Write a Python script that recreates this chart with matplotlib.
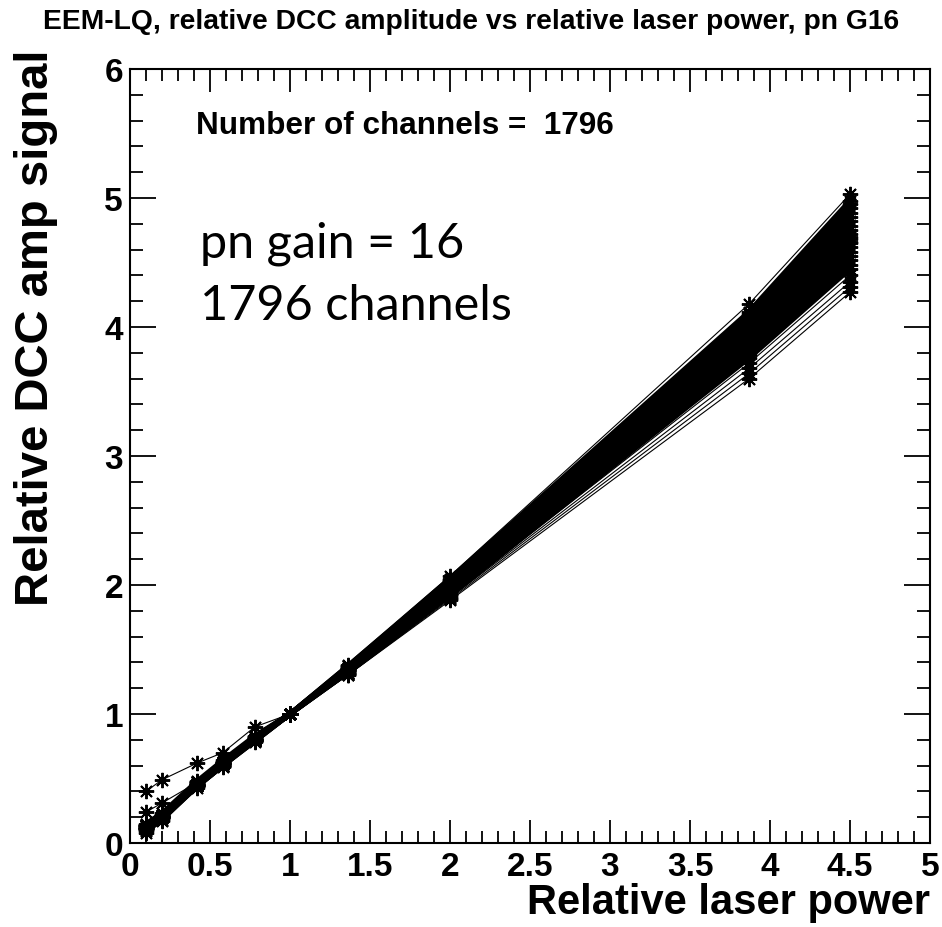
import matplotlib
matplotlib.use("Agg")
import matplotlib.pyplot as plt
from matplotlib.ticker import MultipleLocator

# relative laser power settings
laser_power = [0.1, 0.2, 0.42, 0.58, 0.78, 1.0, 1.36, 2.0, 3.87, 4.5]

# relative DCC amplitude of representative channels at each laser power
# (first two entries are the two low-power outliers, then the band, top to bottom)
amp_p010 = [0.40, 0.24, 0.11, 0.12, 0.13, 0.11, 0.14, 0.12, 0.13, 0.10, 0.15, 0.12, 0.13,
            0.11, 0.14, 0.12, 0.13, 0.12, 0.14, 0.09, 0.13, 0.12, 0.08, 0.12]
amp_p020 = [0.49, 0.31, 0.19, 0.20, 0.21, 0.19, 0.22, 0.20, 0.21, 0.19, 0.23, 0.20, 0.21,
            0.19, 0.22, 0.20, 0.21, 0.20, 0.22, 0.18, 0.21, 0.20, 0.17, 0.20]
amp_p042 = [0.62, 0.47, 0.44, 0.45, 0.46, 0.44, 0.47, 0.45, 0.46, 0.44, 0.48, 0.45, 0.46,
            0.44, 0.47, 0.45, 0.46, 0.45, 0.47, 0.44, 0.46, 0.45, 0.43, 0.45]
amp_p058 = [0.70, 0.63, 0.60, 0.61, 0.62, 0.60, 0.63, 0.61, 0.62, 0.60, 0.64, 0.61, 0.62,
            0.60, 0.63, 0.61, 0.62, 0.61, 0.63, 0.60, 0.62, 0.61, 0.59, 0.61]
amp_p078 = [0.90, 0.81, 0.79, 0.80, 0.81, 0.80, 0.82, 0.79, 0.81, 0.80, 0.83, 0.80, 0.81,
            0.79, 0.82, 0.80, 0.81, 0.80, 0.82, 0.79, 0.81, 0.80, 0.78, 0.80]
amp_p100 = [1.00] * 24
amp_p136 = [1.34, 1.33, 1.38, 1.37, 1.37, 1.36, 1.36, 1.36, 1.35, 1.35, 1.35, 1.34, 1.34,
            1.34, 1.33, 1.33, 1.33, 1.32, 1.32, 1.32, 1.31, 1.31, 1.30, 1.30]
amp_p200 = [1.97, 1.96, 2.07, 2.05, 2.04, 2.03, 2.02, 2.01, 2.00, 1.99, 1.98, 1.98, 1.97,
            1.96, 1.95, 1.95, 1.94, 1.93, 1.92, 1.92, 1.91, 1.90, 1.89, 1.88]
amp_p387 = [3.92, 3.90, 4.18, 4.12, 4.10, 4.07, 4.05, 4.02, 4.00, 3.97, 3.95, 3.93, 3.90,
            3.88, 3.86, 3.84, 3.82, 3.80, 3.78, 3.76, 3.72, 3.68, 3.64, 3.60]
amp_p450 = [4.70, 4.66, 5.03, 4.98, 4.95, 4.92, 4.88, 4.85, 4.82, 4.78, 4.75, 4.72, 4.68,
            4.65, 4.62, 4.58, 4.55, 4.52, 4.48, 4.45, 4.40, 4.35, 4.31, 4.27]

n_channels = 1796

columns = [amp_p010, amp_p020, amp_p042, amp_p058, amp_p078,
           amp_p100, amp_p136, amp_p200, amp_p387, amp_p450]
channels = [list(vals) for vals in zip(*columns)]

plt.rcParams['font.family'] = ['Liberation Sans', 'DejaVu Sans']

fig = plt.figure(figsize=(9.42, 9.28), dpi=100)
ax = fig.add_axes([130 / 942, 84 / 928, 800 / 942, 774 / 928])

for i, amps in enumerate(channels):
    # outer channels show as separate thin lines, the core is a solid band
    core = 3 <= i <= 19
    ax.plot(laser_power, amps, color='black', lw=3.6 if core else 0.8,
            marker=(8, 2, 0), markersize=11, markeredgewidth=1.4, zorder=2)

ax.set_xlim(0, 5)
ax.set_ylim(0, 6)
ax.xaxis.set_major_locator(MultipleLocator(0.5))
ax.xaxis.set_minor_locator(MultipleLocator(0.1))
ax.yaxis.set_major_locator(MultipleLocator(1))
ax.yaxis.set_minor_locator(MultipleLocator(0.2))
ax.xaxis.set_major_formatter(plt.FuncFormatter(lambda v, p: ('%g' % v)))
ax.yaxis.set_major_formatter(plt.FuncFormatter(lambda v, p: ('%g' % v)))

ax.tick_params(axis='both', which='both', direction='in', top=True, right=True,
               width=1.3, color='black')
ax.tick_params(axis='x', which='major', length=16.5, labelsize=24, pad=6)
ax.tick_params(axis='x', which='minor', length=8.5)
ax.tick_params(axis='y', which='major', length=18.5, labelsize=24, pad=5)
ax.tick_params(axis='y', which='minor', length=9.5)
for lab in ax.get_xticklabels() + ax.get_yticklabels():
    lab.set_fontweight('bold')
for sp in ax.spines.values():
    sp.set_linewidth(1.5)

ax.set_xlabel('Relative laser power', fontsize=30, fontweight='bold', loc='right',
              labelpad=0)
fig.text(36 / 942, 1 - 50 / 928, 'Relative DCC amp signal', rotation=90,
         fontsize=34, fontweight='bold', ha='center', va='top')

fig.text(0.5, 1 - 22 / 928, 'EEM-LQ, relative DCC amplitude vs relative laser power, pn G16',
         ha='center', va='center', fontsize=20.3, fontweight='bold')

ax.text(0.082, 0.928, 'Number of channels =  %d' % n_channels, transform=ax.transAxes,
        fontsize=22.7, fontweight='bold', va='center', ha='left')
ax.text(0.44, 4.55, 'pn gain = 16', fontsize=35, family=['Lato', 'DejaVu Sans'],
        va='baseline', ha='left')
ax.text(0.44, 4.06, '%d channels' % n_channels, fontsize=35,
        family=['Lato', 'DejaVu Sans'], va='baseline', ha='left')

fig.savefig('out.png', dpi=100, facecolor='white')
